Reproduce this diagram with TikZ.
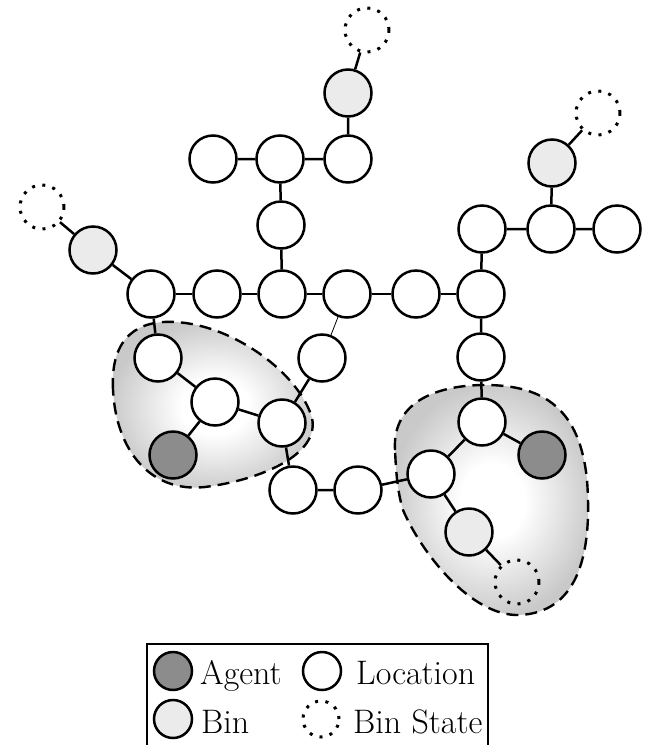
\documentclass[tikz,border=0pt]{standalone}
\usepackage{tikz}
\pgfdeclareradialshading{blobshade}{\pgfpoint{0bp}{0bp}}{color(0bp)=(white); color(8bp)=(white); color(25bp)=(black!21); color(50bp)=(black!21)}
\begin{document}
\begin{tikzpicture}[x=1pt,y=-1pt,
  loc/.style={circle,draw=black,fill=white,line width=2.5pt,minimum size=47pt,inner sep=0pt},
  agent/.style={loc,fill=black!45},
  bin/.style={loc,fill=black!8},
  binstate/.style={circle,draw=black,line width=3pt,dash pattern=on 3pt off 7.4pt,minimum size=44pt,inner sep=0pt},
  edge/.style={line width=2.5pt},
  thinedge/.style={line width=0.8pt},
  blob/.style={line width=2.4pt,dash pattern=on 12pt off 7pt},
  lgloc/.style={loc,minimum size=38pt},
  lgtext/.style={anchor=base west,inner sep=0pt,font=\fontsize{34}{40}\selectfont}
]
\useasboundingbox (0,0) rectangle (646,745);
% shaded regions
\path[shading=blobshade] (113,390) .. controls (110,335) and (140,320) .. (175,322) .. controls (235,325) and (300,375) .. (312,418) .. controls (320,455) and (260,480) .. (205,487) .. controls (150,493) and (116,450) .. (113,390);
\draw[blob] (113,390) .. controls (110,335) and (140,320) .. (175,322) .. controls (235,325) and (300,375) .. (312,418) .. controls (320,455) and (260,480) .. (205,487) .. controls (150,493) and (116,450) .. (113,390);
\path[shading=blobshade] (395,450) .. controls (392,400) and (440,385) .. (485,385) .. controls (545,385) and (580,410) .. (587,480) .. controls (593,560) and (575,612) .. (520,615) .. controls (470,617) and (420,550) .. (403,510) .. controls (397,490) and (396,470) .. (395,450);
\draw[blob] (395,450) .. controls (392,400) and (440,385) .. (485,385) .. controls (545,385) and (580,410) .. (587,480) .. controls (593,560) and (575,612) .. (520,615) .. controls (470,617) and (420,550) .. (403,510) .. controls (397,490) and (396,470) .. (395,450);
% nodes
\node[loc] (m1) at (151,294) {};
\node[loc] (m2) at (217,294) {};
\node[loc] (m3) at (282,294) {};
\node[loc] (m4) at (347,294) {};
\node[loc] (m5) at (416,294) {};
\node[loc] (m6) at (481,294) {};
\node[loc] (u1) at (281,225) {};
\node[loc] (t1) at (213,159) {};
\node[loc] (t2) at (280,159) {};
\node[loc] (t3) at (348,159) {};
\node[bin] (b1) at (348,93) {};
\node[binstate] (d1) at (367,30) {};
\node[loc] (r1) at (482,229) {};
\node[loc] (r2) at (551,229) {};
\node[loc] (r3) at (617,229) {};
\node[bin] (b2) at (552,163) {};
\node[binstate] (d2) at (598,113) {};
\node[bin] (b3) at (93,250) {};
\node[binstate] (d3) at (42,207) {};
\node[loc] (c1) at (481,357) {};
\node[loc] (c2) at (482,422) {};
\node[loc] (g1) at (431,474) {};
\node[agent] (a2) at (542,455) {};
\node[bin] (b4) at (469,532) {};
\node[binstate] (d4) at (517,582) {};
\node[loc] (h1) at (358,490) {};
\node[loc] (h2) at (293,490) {};
\node[loc] (k1) at (158,358) {};
\node[loc] (k2) at (215,402) {};
\node[agent] (a1) at (173,455) {};
\node[loc] (k3) at (282,423) {};
\node[loc] (k4) at (322,358) {};
% edges
\draw[edge] (m1)--(m2) (m2)--(m3) (m3)--(m4) (m4)--(m5) (m5)--(m6);
\draw[edge] (m3)--(u1) (u1)--(t2) (t1)--(t2) (t2)--(t3) (t3)--(b1) (b1)--(d1);
\draw[edge] (m6)--(r1) (r1)--(r2) (r2)--(r3) (r2)--(b2) (b2)--(d2);
\draw[edge] (m1)--(b3) (b3)--(d3);
\draw[edge] (m6)--(c1) (c1)--(c2) (c2)--(g1) (c2)--(a2) (g1)--(b4) (b4)--(d4);
\draw[edge] (g1)--(h1) (h1)--(h2) (h2)--(k3);
\draw[edge] (m1)--(k1) (k1)--(k2) (k2)--(a1) (k2)--(k3) (k3)--(k4);
\draw[thinedge] (k4)--(m4);
% legend
\draw[line width=2pt] (147,750) |- (488,644) -- (488,750);
\node[lgloc,fill=black!45] (la) at (173,671) {};
\node[lgtext] (lta) at (200,684) {Agent};
\node[lgloc] (ll) at (322,671) {};
\node[lgtext] (ltl) at (356,684) {Location};
\node[lgloc,fill=black!8] (lb) at (173,719) {};
\node[lgtext] (ltb) at (201,733) {Bin};
\node[binstate,minimum size=36pt] (ls) at (321,719) {};
\node[lgtext] (lts) at (353,733) {Bin State};
\end{tikzpicture}
\end{document}
